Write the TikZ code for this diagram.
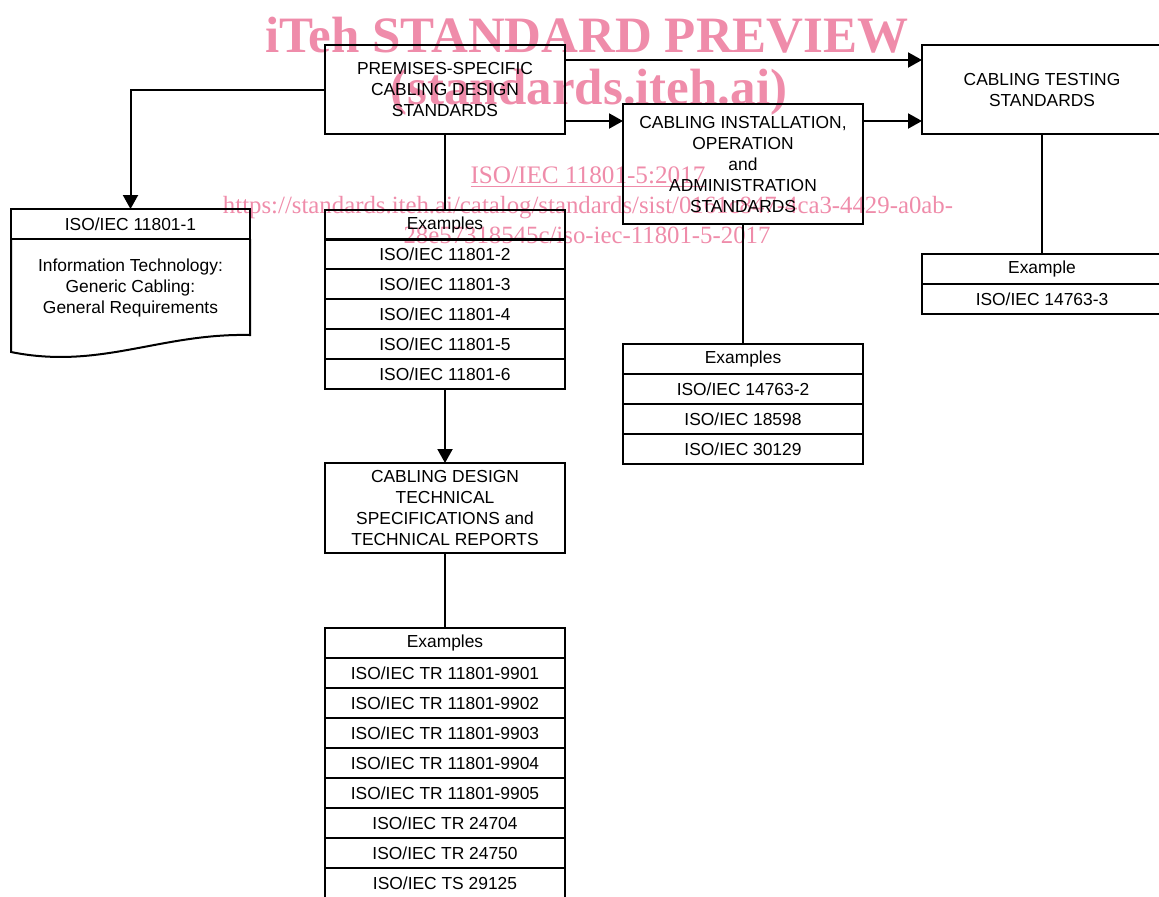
\documentclass[tikz,border=0pt]{standalone}
\usepackage{fontspec}
\setmainfont{Liberation Sans}
\newfontfamily\wmfont{Liberation Serif}
\usepackage{xcolor}
\usetikzlibrary{arrows.meta,positioning,calc}
\definecolor{wmpink}{RGB}{239,140,170}

\begin{document}
\begin{tikzpicture}[
  x=0.5pt, y=-0.5pt,
  box/.style={draw, line width=1pt, minimum width=120pt, align=center,
    inner sep=1pt, outer sep=0pt, font=\fontsize{8.7}{10.5}\selectfont},
  cell/.style={box, minimum height=15pt},
  arr/.style={-{Triangle[length=7pt,width=7.5pt]}, line width=1pt},
  link/.style={line width=1pt},
  wmbig/.style={text=wmpink, anchor=base, inner sep=0pt,
    font=\wmfont\bfseries\fontsize{25.5}{30}\selectfont},
  wmsmall/.style={text=wmpink, anchor=base, inner sep=0pt,
    font=\wmfont\fontsize{12.6}{15}\selectfont}
]
\useasboundingbox (0,0) rectangle (1159,896);

% Watermark
\node[wmbig] (wm1) at (587,52) {iTeh STANDARD PREVIEW};
\node[wmbig] (wm2) at (589,104) {(standards.iteh.ai)};
\node[wmsmall] (wm3) at (588,183) {\underline{ISO/IEC 11801-5:2017}};
\node[wmsmall, font=\wmfont\fontsize{12.4}{15}\selectfont] (wm4) at (588,213)
  {https://standards.iteh.ai/catalog/standards/sist/0161c847-4ca3-4429-a0ab-};
\node[wmsmall, font=\wmfont\fontsize{12.4}{15}\selectfont] (wm5) at (587,243)
  {28e57318545c/iso-iec-11801-5-2017};

% Main boxes
\node[box, minimum height=44.5pt] (P) at (445,89.5)
  {PREMISES-SPECIFIC\\CABLING DESIGN\\STANDARDS};
\node[box, minimum height=44.5pt] (T) at (1042,89.5)
  {CABLING TESTING\\STANDARDS};
\node[box, minimum height=60pt] (I) at (743,164)
  {CABLING INSTALLATION,\\OPERATION\\and\\ADMINISTRATION\\STANDARDS};
\node[box, minimum height=45pt, font=\fontsize{8.7}{10.35}\selectfont] (S) at (445,508)
  {CABLING DESIGN\\TECHNICAL\\SPECIFICATIONS and\\TECHNICAL REPORTS};

% Document box
\node[cell, minimum width=119.5pt] (D) at (130.5,224) {ISO/IEC 11801-1};
\draw[link] (D.south west) -- (11,352)
  .. controls (100,370) and (160,333) .. (250,335) -- (D.south east);
\node[align=center, font=\fontsize{8.7}{10.5}\selectfont] (Dt) at (130.5,288)
  {Information Technology:\\Generic Cabling:\\General Requirements};

% Examples under design standards
\node[cell] (A0) at (445,225) {Examples};
\node[cell] (A1) at (445,254) {ISO/IEC 11801-2};
\node[cell] (A2) at (445,284) {ISO/IEC 11801-3};
\node[cell] (A3) at (445,314) {ISO/IEC 11801-4};
\node[cell] (A4) at (445,344) {ISO/IEC 11801-5};
\node[cell] (A5) at (445,374) {ISO/IEC 11801-6};

% Examples under installation standards
\node[cell] (B0) at (743,359) {Examples};
\node[cell] (B1) at (743,389) {ISO/IEC 14763-2};
\node[cell] (B2) at (743,419) {ISO/IEC 18598};
\node[cell] (B3) at (743,449) {ISO/IEC 30129};

% Example under testing standards
\node[cell] (C0) at (1042,269) {Example};
\node[cell] (C1) at (1042,299) {ISO/IEC 14763-3};

% Examples under technical reports
\node[cell] (R0) at (445,643) {Examples};
\node[cell] (R1) at (445,673) {ISO/IEC TR 11801-9901};
\node[cell] (R2) at (445,703) {ISO/IEC TR 11801-9902};
\node[cell] (R3) at (445,733) {ISO/IEC TR 11801-9903};
\node[cell] (R4) at (445,763) {ISO/IEC TR 11801-9904};
\node[cell] (R5) at (445,793) {ISO/IEC TR 11801-9905};
\node[cell] (R6) at (445,823) {ISO/IEC TR 24704};
\node[cell] (R7) at (445,853) {ISO/IEC TR 24750};
\node[cell] (R8) at (445,883) {ISO/IEC TS 29125};

% Connectors
\draw[arr] ([yshift=14.75pt]P.east) -- ([yshift=14.75pt]T.west);
\draw[arr] ([yshift=-15.75pt]P.east) -- ([yshift=-15.75pt]P.east -| I.west);
\draw[arr] ([yshift=-15.75pt]P.east -| I.east) -- ([yshift=-15.75pt]P.east -| T.west);
\draw[arr] (P.west) -| (D.north);
\draw[link] (P.south) -- (A0.north);
\draw[arr] (A5.south) -- (S.north);
\draw[link] (S.south) -- (R0.north);
\draw[link] (I.south) -- (B0.north);
\draw[link] (T.south) -- (C0.north);
\end{tikzpicture}
\end{document}
